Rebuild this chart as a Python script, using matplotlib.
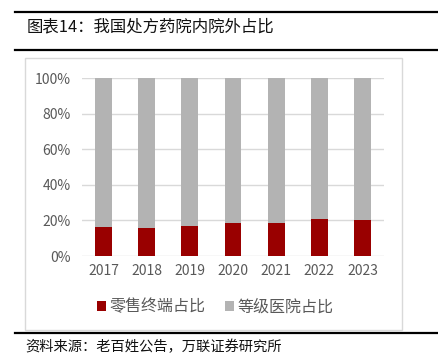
import matplotlib
matplotlib.use('Agg')
import matplotlib.pyplot as plt
from matplotlib.patches import Rectangle
from matplotlib.lines import Line2D
import numpy as np

plt.rcParams['font.family'] = ['Noto Sans CJK SC', 'DejaVu Sans']

# 数据
years = ['2017', '2018', '2019', '2020', '2021', '2022', '2023']
retail_share = [16.1, 16.0, 17.0, 18.7, 18.7, 20.9, 20.0]
hospital_share = [100 - v for v in retail_share]

W, H = 439, 356
fig = plt.figure(figsize=(W / 100, H / 100), dpi=100)

def fx(px):
    return px / W

def fy(py):
    return 1 - py / H

# 标题和分隔线
fig.add_artist(Line2D([fx(15), fx(439)], [fy(12), fy(12)], color='black', lw=1.6))
fig.add_artist(Line2D([fx(15), fx(439)], [fy(50), fy(50)], color='black', lw=1.6))
fig.add_artist(Line2D([fx(15), fx(439)], [fy(333), fy(333)], color='black', lw=1.6))
fig.text(fx(27), fy(27), '图表14：我国处方药院内院外占比', fontsize=11.8, va='center', ha='left', color='#111111')
fig.text(fx(25), fy(347), '资料来源：老百姓公告，万联证券研究所', fontsize=10.3, va='center', ha='left',
         style='italic', color='#111111')

# 图表外框
fig.add_artist(Rectangle((fx(25), fy(330)), fx(402) - fx(25), fy(58) - fy(330),
                         fill=False, edgecolor='#D9D9D9', lw=1.0))

ax = fig.add_axes([fx(82), fy(256), fx(384) - fx(82), fy(78) - fy(256)])
x = np.arange(len(years))
width = 0.39
ax.bar(x, retail_share, width, color='#990000', label='零售终端占比', zorder=3)
ax.bar(x, hospital_share, width, bottom=retail_share, color='#B3B3B3', label='等级医院占比', zorder=3)

ax.set_ylim(0, 100)
ax.set_xlim(-0.5, len(years) - 0.5)
ax.set_yticks(range(0, 101, 20))
ax.set_yticklabels([f'{v}%' for v in range(0, 101, 20)])
ax.set_xticks(x)
ax.set_xticklabels(years)
ax.grid(axis='y', color='#D9D9D9', lw=1.0, zorder=0)
for s in ax.spines.values():
    s.set_visible(False)
ax.tick_params(length=0, labelsize=10, colors='#595959', pad=8)
ax.tick_params(axis='x', pad=6)

fig.legend(loc='center', bbox_to_anchor=(fx(215), fy(307)), ncol=2, frameon=False,
           fontsize=11.5, handlelength=0.6, handleheight=0.6, handletextpad=0.2,
           columnspacing=1.2, labelcolor='#595959')

fig.savefig('out.png', dpi=100)
